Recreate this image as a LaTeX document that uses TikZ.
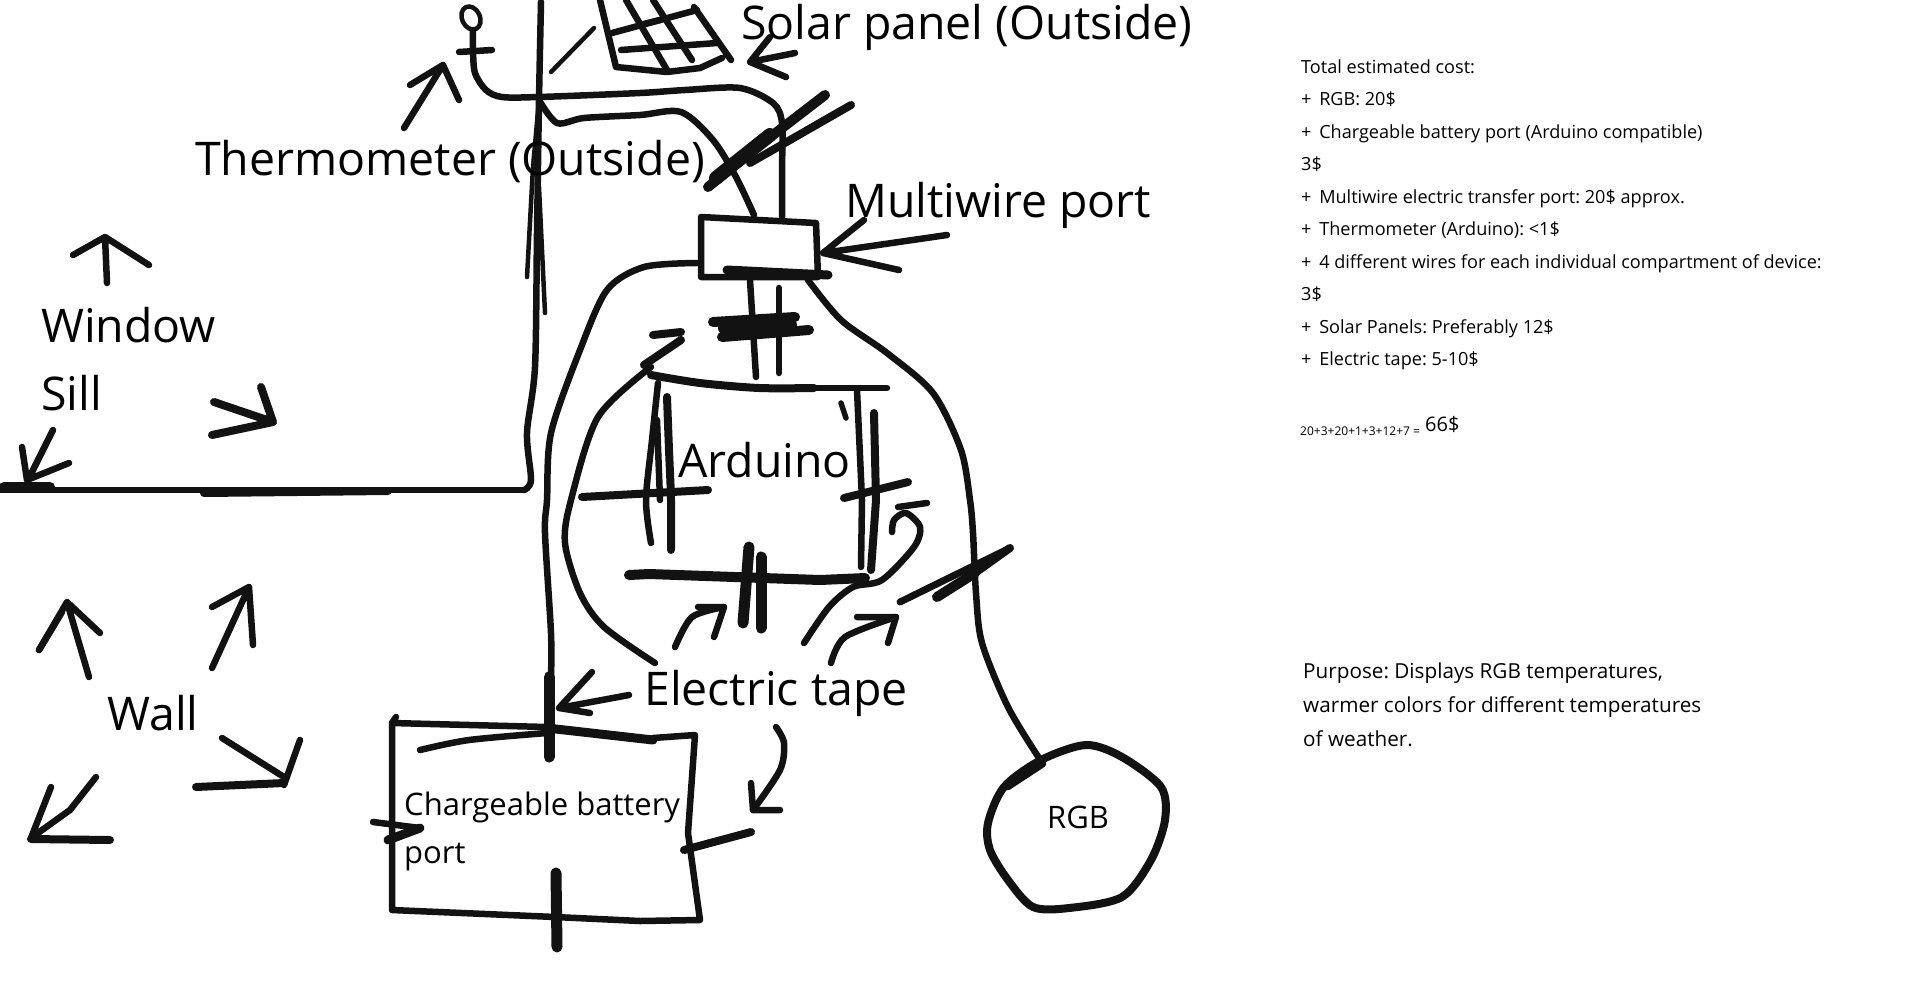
\documentclass[tikz,border=0pt]{standalone}
\usepackage{fontspec}
\setmainfont{Open Sans}
\usetikzlibrary{positioning}

\tikzset{
  pen/.style={draw=black!93,line width=5.5pt,line cap=round,line join=round},
  thinpen/.style={pen,line width=4.5pt},
  wire/.style={pen,line width=6.5pt},
  tape/.style={pen,line width=10pt},
  word/.style={inner sep=0pt,anchor=base west,text=black},
  big/.style={word,font=\fontsize{46.4}{46.4}\selectfont},
  mid/.style={word,font=\fontsize{31}{31}\selectfont},
  note/.style={word,font=\fontsize{18.1}{18.1}\selectfont},
  purpose/.style={word,font=\fontsize{20.7}{20.7}\selectfont}
}

\newcommand{\sketchline}[2][pen]{\draw[#1] plot[smooth] coordinates {#2};}
\newcommand{\costplus}{+\hspace{3pt} }

\begin{document}
\frenchspacing
\begin{tikzpicture}[x=1pt,y=-1pt]
  \useasboundingbox (0,0) rectangle (1920,997);

  % outside: thermometer and solar panel
  \draw[thinpen,rotate around={25:(471,18)}] (471,18) ellipse (9 and 12);
  \sketchline[wire]{(473,30) (473,50) (475,73) (486,90) (502,97) (539,97) (640,93) (685,90) (740,88) (773,103) (782,123) (782,170) (782,217)}
  \draw[wire] (459,52) -- (492,50);
  \draw[thinpen] (551,72) -- (594,28);
  \draw[wire] (600,0) -- (616,67) -- (667,72) -- (700,68) -- (722,58) (694,7) -- (731,60);
  \draw[wire] (612,33) -- (697,10) (621,50) -- (717,43);
  \draw[wire] (626,0) -- (667,70) (653,0) -- (692,60) (640,25) -- (660,20);

  % wall and sill
  \sketchline[wire]{(541,2) (539,100) (537,233) (535,367) (527,433) (531,480) (524,490)}
  \draw[wire] (524,490) -- (0,490);
  \draw[tape,line width=8pt] (204,493) -- (388,491);
  \draw[tape] (4,487) -- (50,487);
  \draw[thinpen] (527,277) -- (533,167) -- (539,100);
  \draw[thinpen] (545,313) -- (539,187);
  \sketchline[wire]{(539,100) (557,123) (584,118) (640,115) (681,112) (713,140) (736,177) (754,215)}

  % multiwire port
  \coordinate (PortNW) at (701,217);
  \coordinate (PortNE) at (816,223);
  \coordinate (PortSE) at (818,277);
  \coordinate (PortSW) at (701,277);
  \draw[pen,line width=6.5pt] (PortNW) -- (PortNE) -- (PortSE) -- (PortSW) -- cycle;
  \draw[tape,line width=9pt] (727,270) -- (828,275);
  \draw[tape] (708,187) -- (760,145) -- (825,95);
  \draw[tape,line width=8pt] (750,163) -- (851,105);
  \draw[tape,line width=14pt] (716,178) -- (770,135);

  % arduino
  \coordinate (ArdNW) at (651,375);
  \coordinate (ArdNE) at (887,388);
  \coordinate (ArdSW) at (629,575);
  \coordinate (ArdSE) at (865,578);
  \sketchline[tape,line width=8pt]{(ArdNW) (700,383) (759,388) (814,388)}
  \draw[wire] (814,388) -- (ArdNE);
  \draw[wire] (750,280) -- (756,377);
  \draw[wire] (779,288) -- (779,373);
  \draw[tape] (713,322) -- (795,317);
  \draw[tape] (722,337) -- (809,330);
  \draw[tape,line width=14pt] (725,328) -- (790,325);
  \sketchline[wire]{(658,383) (652,440) (646,500) (651,543)}
  \sketchline[tape,line width=8pt]{(667,397) (669,450) (671,500) (671,550)}
  \draw[wire] (657,420) -- (660,500);
  \draw[wire] (857,390) -- (862,500) -- (861,567);
  \draw[tape,line width=8pt] (874,413) -- (876,500) -- (871,570);
  \draw[pen] (841,403) -- (846,418);
  \draw[tape,line width=8pt] (582,497) -- (708,490);
  \draw[tape,line width=8pt] (844,498) -- (908,482);
  \draw[tape] (ArdSW) -- (649,574) -- (820,580) -- (ArdSE);
  \draw[tape,line width=11pt] (749,547) -- (743,623);
  \draw[tape,line width=11pt] (761,557) -- (761,628);
  \sketchline[wire]{(804,643) (829,607) (853,587) (882,580) (914,547) (920,527) (906,513) (894,520) (892,532)}
  \draw[wire] (898,507) -- (927,503);

  % wires around arduino
  \sketchline[wire]{(697,263) (644,267) (607,290) (580,350) (551,433) (547,500) (545,533) (551,633) (551,677)}
  \sketchline[wire]{(655,663) (604,627) (580,593) (565,543) (571,500) (598,417) (651,367)}
  \sketchline[wire]{(808,280) (841,320) (887,353) (933,393) (961,450) (970,500) (973,533) (976,593) (982,643) (1008,707) (1039,758)}
  \draw[tape,line width=7pt] (900,602) -- (1010,548);
  \draw[tape] (937,597) -- (975,573);
  \draw[tape,line width=8pt] (975,573) -- (1010,548);

  % rgb
  \draw[pen,line width=8pt] plot[smooth cycle] coordinates {(1086,745) (1122,757) (1161,787) (1165,820) (1151,860) (1122,897) (1069,908) (1033,907) (1008,880) (990,850) (988,823) (1004,787) (1041,760)};
  \draw[wire] (1008,787) -- (1043,764);

  % battery
  \coordinate (BatNW) at (392,723);
  \coordinate (BatNE) at (695,735);
  \coordinate (BatSE) at (700,920);
  \coordinate (BatSW) at (392,910);
  \draw[wire] (396,717) -- (BatNW) -- (BatSW) -- (555,917) -- (640,921) -- (BatSE) -- (688,833) -- (BatNE) -- (653,738);
  \draw[wire] (BatNW) -- (547,727);
  \draw[wire,line width=9pt] (547,728) -- (653,740);
  \sketchline[wire]{(420,750) (469,740) (547,733)}
  \draw[tape,line width=11pt] (549,677) -- (549,757);
  \draw[tape,line width=11pt] (556,873) -- (557,947);
  \draw[wire] (373,822) -- (420,828);
  \draw[tape,line width=9pt] (388,840) -- (420,828);
  \draw[tape,line width=8pt] (684,850) -- (751,832);

  % little arrows
  \draw[wire] (404,128) -- (443,65) (410,85) -- (443,65) -- (459,100);
  \draw[wire] (795,53) -- (750,62) (770,37) -- (750,62) -- (786,77);
  \draw[wire] (947,235) -- (823,253) (864,220) -- (823,253) -- (899,270);
  \draw[wire] (107,283) -- (105,237) (73,255) -- (105,237) -- (149,265);
  \draw[tape,line width=8pt] (214,402) -- (273,422) (212,435) -- (273,422) -- (261,387);
  \draw[wire] (53,430) -- (29,478) (22,447) -- (27,480) (69,463) -- (27,480);
  \draw[wire] (89,677) -- (67,602) (39,650) -- (67,602) -- (100,633) (39,650) -- (54,625);
  \draw[wire] (39,650) -- (62,612);
  \draw[wire] (212,668) -- (249,587) (212,607) -- (249,587) -- (253,645);
  \draw[wire] (222,738) -- (284,777) (300,740) -- (284,785);
  \draw[tape,line width=8pt] (196,787) -- (284,783);
  \draw[wire] (96,777) -- (70,810) -- (31,838) (51,787) -- (31,838);
  \draw[tape,line width=8pt] (31,839) -- (110,840);
  \draw[wire] (629,695) -- (559,708) (592,672) -- (559,708) -- (590,713);
  \draw[tape,line width=8pt] (644,365) -- (681,340) (653,335) -- (681,332);
  \sketchline[wire]{(675,647) (692,617) (724,607)}
  \draw[wire] (698,607) -- (724,607) -- (714,637);
  \sketchline[wire]{(831,663) (845,637) (896,617)}
  \draw[wire] (857,617) -- (896,617) -- (888,643);
  \sketchline[wire]{(776,727) (784,743) (780,770) (753,810)}
  \draw[wire] (751,783) -- (753,810) -- (780,810);

  % labels
  \node[big] (Solar)   at (741,39)  {Solar panel (Outside)};
  \node[big] (Therm)   at (195,175) {Thermometer (Outside)};
  \node[big] (Multi)   at (845,217) {Multiwire port};
  \node[big] (Window)  at (41,342)  {Window};
  \node[big] (Sill)    at (41,410)  {Sill};
  \node[big] (Arduino) at (678,477) {Arduino};
  \node[big] (Wall)    at (107,730) {Wall};
  \node[big] (Tape)    at (644,705) {Electric tape};
  \node[mid] (Batt)    at (404,815) {Chargeable battery};
  \node[mid] (Port)    at (404,863) {port};
  \node[mid] (RGB)     at (1047,828) {RGB};

  % cost list
  \node[note] (L1)  at (1301,73)  {Total estimated cost:};
  \node[note] (L2)  at (1301,105) {\costplus RGB: 20\$};
  \node[note] (L3)  at (1301,138) {\costplus Chargeable battery port (Arduino compatible)};
  \node[note] (L4)  at (1301,170) {3\$};
  \node[note] (L5)  at (1301,203) {\costplus Multiwire electric transfer port: 20\$ approx.};
  \node[note] (L6)  at (1301,235) {\costplus Thermometer (Arduino): <1\$};
  \node[note] (L7)  at (1301,268) {\costplus 4 different wires for each individual compartment of device:};
  \node[note] (L8)  at (1301,300) {3\$};
  \node[note] (L9)  at (1301,333) {\costplus Solar Panels: Preferably 12\$};
  \node[note] (L10) at (1301,365) {\costplus Electric tape: 5-10\$};
  \node[word,font=\fontsize{12}{12}\selectfont] (Sum) at (1300,435) {20+3+20+1+3+12+7 =};
  \node[word,font=\fontsize{20}{20}\selectfont] (Total) at (1425,431) {66\$};

  \node[purpose] (P1) at (1303,678) {Purpose: Displays RGB temperatures,};
  \node[purpose] (P2) at (1303,712) {warmer colors for different temperatures};
  \node[purpose] (P3) at (1303,746) {of weather.};
\end{tikzpicture}
\end{document}
